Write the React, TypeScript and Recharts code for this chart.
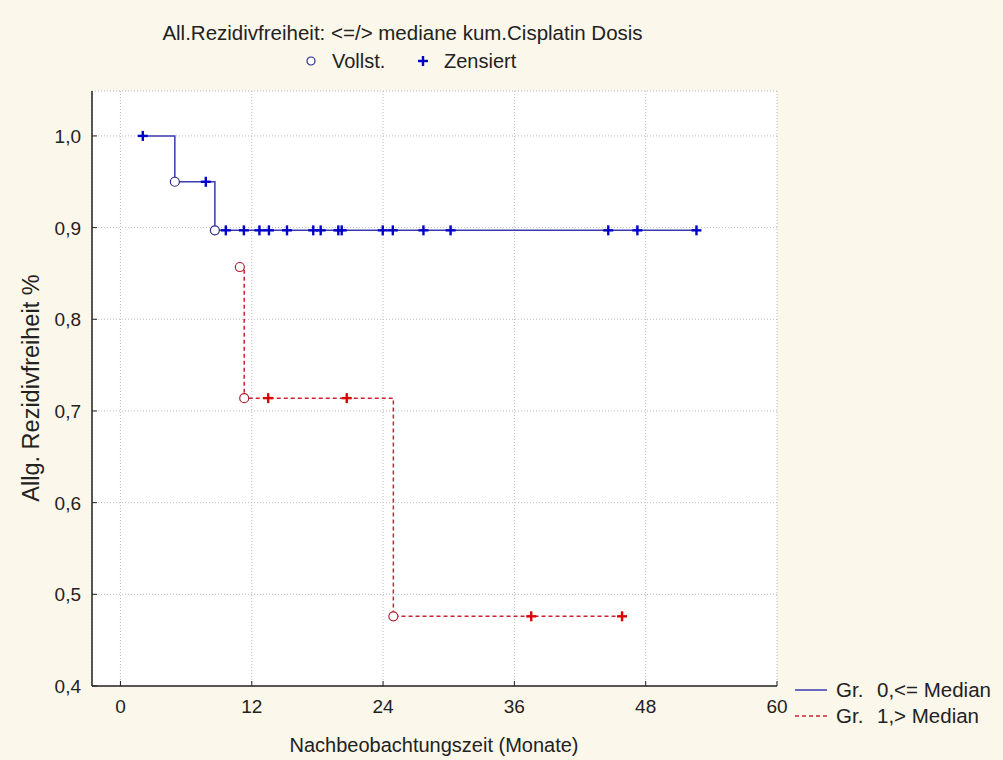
import React from 'react';
import { LineChart, Line, XAxis, YAxis, CartesianGrid } from 'recharts';

const FONT = '"Liberation Sans", Arial, sans-serif';
const BG = '#fbf7ea';

// axes
const xTicks = [0, 12, 24, 36, 48, 60];
const xTopTicks = [0, 10, 20, 30, 40, 50];
const yTicks = [0.4, 0.5, 0.6, 0.7, 0.8, 0.9, 1.0];
const xDomain = [-2.6, 60];
const yDomain = [0.4, 1.049];

// Gr. 0, <= Median  (event: 1 = vollst., 0 = zensiert)
const g0Time = [2.04, 4.97, 7.8, 8.63, 9.63, 11.28, 12.7, 13.57, 15.22, 17.62, 18.3, 19.91, 20.22, 23.97, 24.89, 27.69, 30.17, 44.58, 47.24, 52.64];
const g0Surv = [1.0, 0.95, 0.95, 0.897, 0.897, 0.897, 0.897, 0.897, 0.897, 0.897, 0.897, 0.897, 0.897, 0.897, 0.897, 0.897, 0.897, 0.897, 0.897, 0.897];
const g0Event = [0, 1, 0, 1, 0, 0, 0, 0, 0, 0, 0, 0, 0, 0, 0, 0, 0, 0, 0, 0];

// Gr. 1, > Median
const g1Time = [10.91, 11.31, 13.5, 20.68, 24.94, 37.54, 45.84];
const g1Surv = [0.857, 0.714, 0.714, 0.714, 0.476, 0.476, 0.476];
const g1Event = [1, 1, 0, 0, 1, 0, 0];

const build = (t: number[], s: number[], e: number[]) =>
  t.map((v, i) => ({ t: v, s: s[i], ev: e[i] }));

const group0 = build(g0Time, g0Surv, g0Event);
const group1 = build(g1Time, g1Surv, g1Event);

const makeDot = (circleColor: string, crossColor: string) => (props: any) => {
  const { cx, cy, payload, index } = props;
  if (cx == null || cy == null) return <g key={`n-${index}`} />;
  if (payload.ev === 1) {
    return <circle key={`c-${index}`} cx={cx} cy={cy} r={4.5} fill="#fff" stroke={circleColor} strokeWidth={1.2} />;
  }
  return (
    <g key={`x-${index}`} stroke={crossColor} strokeWidth={2.4}>
      <line x1={cx - 5} x2={cx + 5} y1={cy} y2={cy} />
      <line x1={cx} x2={cx} y1={cy - 5} y2={cy + 5} />
    </g>
  );
};

const BottomTick = (props: any) => {
  const { x, y, payload } = props;
  return (
    <g>
      <line x1={x} x2={x} y1={y} y2={y - 5} stroke="#222" />
      <text x={x} y={y + 27} textAnchor="middle" fill="#222" fontSize={19} fontFamily={FONT}>
        {payload.value}
      </text>
    </g>
  );
};

const TopTick = (props: any) => {
  const { x, y } = props;
  return <line x1={x} x2={x} y1={y} y2={y + 5} stroke="#222" />;
};

const LeftTick = (props: any) => {
  const { x, y, payload } = props;
  return (
    <g>
      <line x1={x} x2={x + 5} y1={y} y2={y} stroke="#222" />
      <text x={x - 11} y={y + 7} textAnchor="end" fill="#222" fontSize={19} fontFamily={FONT}>
        {payload.value.toFixed(1).replace('.', ',')}
      </text>
    </g>
  );
};

const txt: React.CSSProperties = {
  position: 'absolute',
  fontFamily: FONT,
  color: '#222',
  whiteSpace: 'nowrap',
  lineHeight: '22px',
  fontSize: 20,
};

export default function App() {
  return (
    <div style={{ position: 'absolute', left: 0, top: 0, width: 1003, height: 760, background: BG }}>
      {/* white plot area */}
      <div style={{ position: 'absolute', left: 92, top: 91, width: 685, height: 595, background: '#fff' }} />
      <LineChart width={1003} height={760} margin={{ top: 91, right: 226, bottom: 0, left: 0 }}>
        <CartesianGrid xAxisId="b" yAxisId="l" fill="#fff" stroke="#bdbdbd" strokeDasharray="1 2" />
        <XAxis
          xAxisId="b"
          dataKey="t"
          type="number"
          domain={xDomain}
          ticks={xTicks}
          allowDataOverflow
          height={74}
          tickSize={0}
          tickMargin={0}
          tick={<BottomTick />}
          axisLine={{ stroke: '#222', strokeWidth: 1.5 }}
          tickLine={false}
        />
        <XAxis
          xAxisId="t"
          orientation="top"
          type="number"
          domain={xDomain}
          ticks={xTopTicks}
          allowDataOverflow
          height={0}
          tickSize={0}
          tickMargin={0}
          tick={<TopTick />}
          axisLine={{ stroke: '#222', strokeWidth: 1.5 }}
          tickLine={false}
        />
        <YAxis
          yAxisId="l"
          type="number"
          domain={yDomain}
          ticks={yTicks}
          allowDataOverflow
          width={92}
          tickSize={0}
          tickMargin={0}
          tick={<LeftTick />}
          axisLine={{ stroke: '#222', strokeWidth: 1.5 }}
          tickLine={false}
        />
        <YAxis
          yAxisId="r"
          orientation="right"
          type="number"
          domain={yDomain}
          allowDataOverflow
          width={0}
          tick={false}
          tickLine={false}
          axisLine={{ stroke: '#222', strokeWidth: 1.5 }}
        />
        <Line
          xAxisId="b"
          yAxisId="l"
          data={group0}
          dataKey="s"
          type="stepAfter"
          stroke="#3a3ab0"
          strokeWidth={1.5}
          dot={makeDot('#2a2a90', '#0000c8')}
          activeDot={false}
          isAnimationActive={false}
        />
        <Line
          xAxisId="b"
          yAxisId="l"
          data={group1}
          dataKey="s"
          type="stepAfter"
          stroke="#cc2233"
          strokeWidth={1.5}
          strokeDasharray="4 3"
          dot={makeDot('#b02030', '#e00000')}
          activeDot={false}
          isAnimationActive={false}
        />
      </LineChart>

      <div style={{ ...txt, left: 0, width: 805, top: 22, textAlign: 'center', fontSize: 20.5 }}>
        All.Rezidivfreiheit: &lt;=/&gt; mediane kum.Cisplatin Dosis
      </div>
      <svg style={{ position: 'absolute', left: 305, top: 55 }} width={12} height={12}>
        <circle cx={6} cy={6} r={4} fill="#fff" stroke="#2a2a90" strokeWidth={1.2} />
      </svg>
      <div style={{ ...txt, left: 332, top: 50 }}>Vollst.</div>
      <svg style={{ position: 'absolute', left: 417, top: 55 }} width={12} height={12}>
        <g stroke="#0000c8" strokeWidth={2.4}>
          <line x1={1} x2={11} y1={6} y2={6} />
          <line x1={6} x2={6} y1={1} y2={11} />
        </g>
      </svg>
      <div style={{ ...txt, left: 444, top: 50 }}>Zensiert</div>

      <div
        style={{
          ...txt,
          left: 31 - 150,
          top: 376,
          width: 300,
          textAlign: 'center',
          fontSize: 23.5,
          lineHeight: '24px',
          transform: 'rotate(-90deg)',
        }}
      >
        Allg. Rezidivfreiheit %
      </div>
      <div style={{ ...txt, left: 234, width: 400, top: 734, textAlign: 'center' }}>
        Nachbeobachtungszeit (Monate)
      </div>

      <svg style={{ position: 'absolute', left: 793, top: 682 }} width={40} height={40}>
        <line x1={2} x2={34} y1={8} y2={8} stroke="#3a3ab0" strokeWidth={1.5} />
        <line x1={2} x2={34} y1={34} y2={34} stroke="#cc2233" strokeWidth={1.5} strokeDasharray="4 3" />
      </svg>
      <div style={{ ...txt, left: 836, top: 679, fontSize: 20.5 }}>Gr.</div>
      <div style={{ ...txt, left: 877, top: 679, fontSize: 20.5 }}>0,&lt;= Median</div>
      <div style={{ ...txt, left: 836, top: 705, fontSize: 20.5 }}>Gr.</div>
      <div style={{ ...txt, left: 877, top: 705, fontSize: 20.5 }}>1,&gt; Median</div>
    </div>
  );
}
